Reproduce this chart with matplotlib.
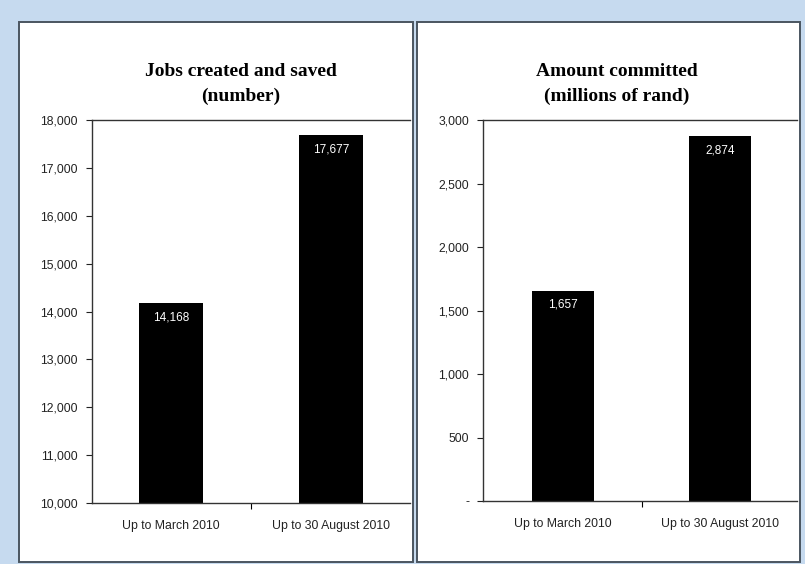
import matplotlib.pyplot as plt
import matplotlib.patches as mpatches
from matplotlib.ticker import FuncFormatter

categories = ["Up to March 2010", "Up to 30 August 2010"]
jobs = [14168, 17677]
amount = [1657, 2874]

jobs_ticks = [10000, 11000, 12000, 13000, 14000, 15000, 16000, 17000, 18000]
amount_ticks = [0, 500, 1000, 1500, 2000, 2500, 3000]

W, H = 805, 564
fig = plt.figure(figsize=(W / 100, H / 100), dpi=100)
fig.patch.set_facecolor("#c6daef")

plt.rcParams["font.family"] = ["Liberation Sans", "DejaVu Sans"]


def px_box(x0, y0, x1, y1):
    # pixel box (top-left origin) -> figure fraction [l, b, w, h]
    return [x0 / W, 1 - y1 / H, (x1 - x0) / W, (y1 - y0) / H]


# panel frames
for x0, x1 in [(19, 413), (417, 800)]:
    l, b, w, h = px_box(x0, 22, x1, 562)
    fig.patches.append(mpatches.Rectangle((l, b), w, h, transform=fig.transFigure,
                                          facecolor="white", edgecolor="#4a5560",
                                          linewidth=1.4, zorder=-10))


def fmt_thousands(v, pos):
    if v == 0:
        return "-"
    return f"{int(v):,}"


def draw_panel(box, values, ticks, ylim, xlim, title, title_x):
    ax = fig.add_axes(px_box(*box))
    ax.set_zorder(5)
    ax.set_facecolor("none")
    x = range(len(categories))
    bars = ax.bar(x, values, width=0.4, color="black", zorder=2)
    ax.set_ylim(*ylim)
    ax.set_xlim(*xlim)
    ax.set_yticks(ticks)
    ax.yaxis.set_major_formatter(FuncFormatter(fmt_thousands))
    ax.tick_params(axis="y", direction="out", length=4, width=0.8,
                   labelsize=8.8, colors="#222222", pad=6)
    ax.set_xticks(list(x))
    ax.set_xticklabels(categories)
    ax.tick_params(axis="x", length=0, labelsize=8.8, colors="#222222", pad=12)
    ax.set_xticks([0.5], minor=True)
    ax.tick_params(axis="x", which="minor", length=4, width=0.8, direction="out")
    ax.spines["right"].set_visible(False)
    for s in ["left", "bottom", "top"]:
        ax.spines[s].set_color("#333333")
        ax.spines[s].set_linewidth(1.0)
    span = ylim[1] - ylim[0]
    for bar, v in zip(bars, values):
        ax.text(bar.get_x() + bar.get_width() / 2, v - span * 0.022, f"{v:,}",
                ha="center", va="top", color="white", fontsize=8.5)
    fig.text(title_x / W, 1 - 84 / H, title, ha="center", va="center",
             fontsize=14, fontweight="bold", family="Liberation Serif",
             linespacing=1.55)
    return ax


draw_panel((92, 120, 410, 503), jobs, jobs_ticks, (10000, 18000), (-0.494, 1.494),
           "Jobs created and saved\n(number)", 241)
draw_panel((483, 120, 797, 501), amount, amount_ticks, (0, 3000), (-0.51, 1.49),
           "Amount committed\n(millions of rand)", 617)

fig.savefig("out.png", dpi=100, facecolor=fig.get_facecolor())
